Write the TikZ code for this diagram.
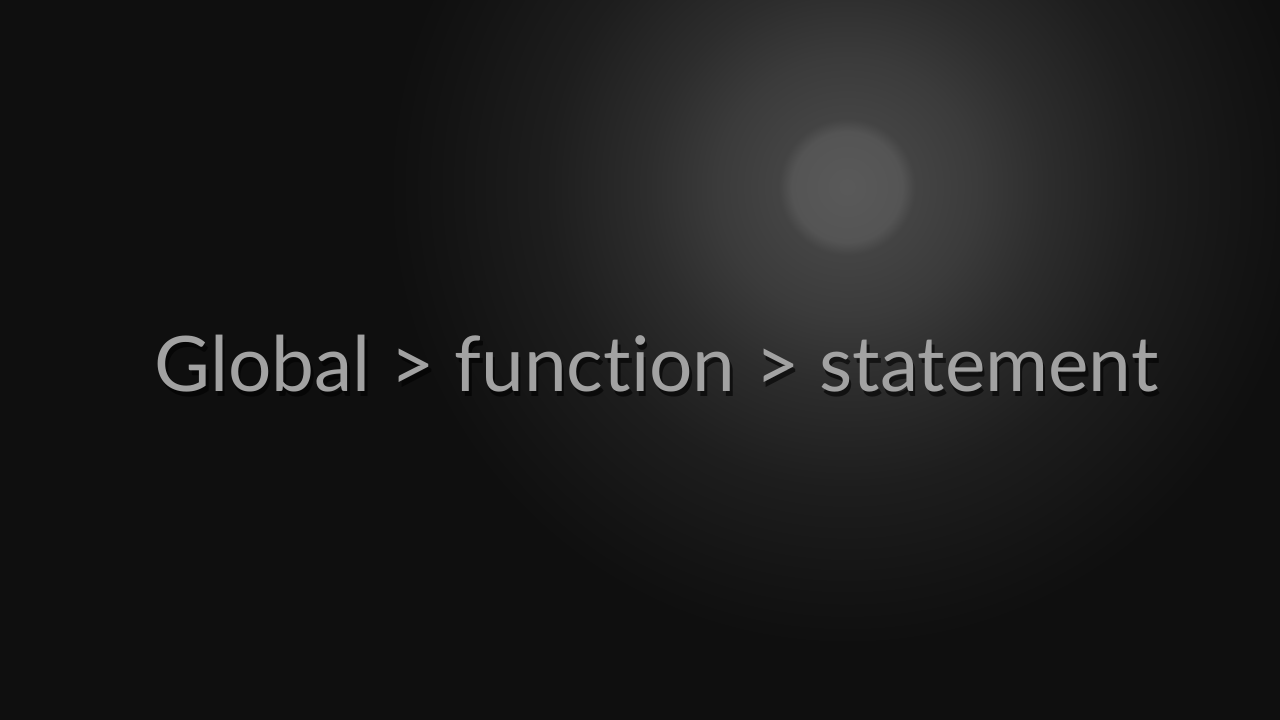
\documentclass[tikz,border=0pt]{standalone}
\usepackage{fontspec}
\setmainfont{Lato}[Ligatures=NoCommon]
\definecolor{slidebg}{HTML}{0F0F0F}
\definecolor{slidetext}{HTML}{A2A2A2}
\pgfdeclareradialshading{glow}{\pgfpoint{0bp}{0bp}}{%
  color(0bp)=(white!35!black);
  color(2.75bp)=(white!33!black);
  color(3.4bp)=(white!26.5!black);
  color(6.5bp)=(white!23!black);
  color(10bp)=(white!17.5!black);
  color(15bp)=(white!11.5!black);
  color(20bp)=(white!7.8!black);
  color(23bp)=(slidebg);
  color(50bp)=(slidebg)}
\begin{document}
\begin{tikzpicture}[
  words/.style={anchor=base,font=\fontsize{21.8pt}{26pt}\selectfont,inner sep=0pt},
]
  \useasboundingbox (0,0) rectangle (12.8,7.2);
  \fill[slidebg] (0,0) rectangle (12.8,7.2);
  \begin{scope}
    \clip (0,0) rectangle (12.8,7.2);
    \shade[shading=glow] (8.47,5.33) circle (5);
  \end{scope}
  \node[words,text=black,opacity=0.6] (titleshadow) at (6.59,3.23) {Global > function > statement};
  \node[words,text=slidetext] (title) at (6.565,3.28) {Global > function > statement};
\end{tikzpicture}
\end{document}
